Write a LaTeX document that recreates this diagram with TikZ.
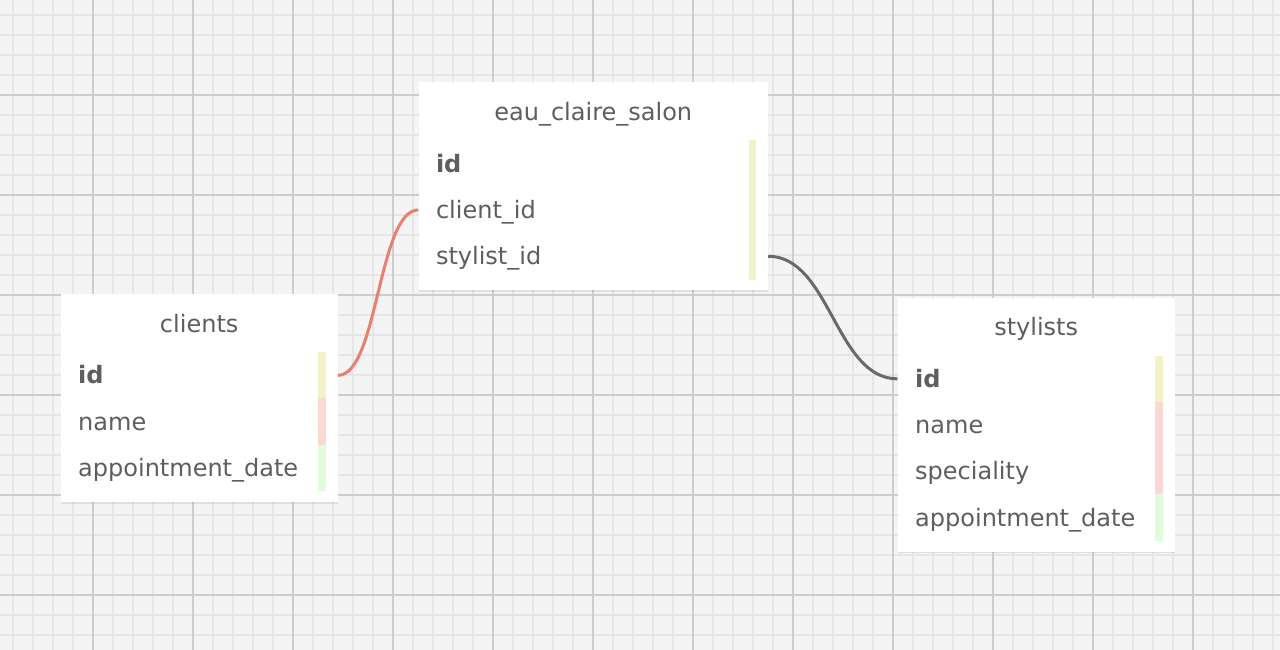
\documentclass[tikz,border=0pt]{standalone}
\usepackage{fontspec}
\setmainfont{DejaVu Sans}
\usepackage{tikz}
\usetikzlibrary{matrix,shadows}
\definecolor{gridbg}{HTML}{F4F4F4}
\definecolor{gridminor}{HTML}{E6E6E6}
\definecolor{gridmajor}{HTML}{CDCDCD}
\definecolor{fieldtext}{HTML}{5E5E5E}
\definecolor{keyyellow}{HTML}{F1F2C8}
\definecolor{keypink}{HTML}{F9D8D5}
\definecolor{keygreen}{HTML}{E1FBDC}
\definecolor{linkred}{HTML}{E9806F}
\definecolor{linkgray}{HTML}{6A6A6A}
\tikzset{table/.style={
    matrix of nodes,
    anchor=north west,
    fill=white,
    drop shadow={shadow xshift=0pt,shadow yshift=-1.5pt,opacity=0.18},
    inner xsep=0pt, inner ysep=11pt,
    row sep=0pt,
    nodes={
      text width=#1,
      text height=20pt, text depth=3pt,
      minimum height=46.3pt,
      inner xsep=17.5pt, inner ysep=0pt,
      align=left,
      anchor=center,
      text=fieldtext,
      font=\fontsize{24}{28}\selectfont
    },
  },
  table/.default=242pt,
  title/.style={align=center, inner ysep=7pt, text depth=13pt},
  pk/.style={font=\fontsize{24}{28}\selectfont\bfseries},
  link/.style={line width=3pt}
}

\begin{document}
\begin{tikzpicture}[x=1pt,y=-1pt]
    \useasboundingbox (0,0) rectangle (1280,650);
    % grid
    \fill[gridbg] (0,0) rectangle (1280,650);
    \foreach \x in {13,33,...,1273} \draw[gridminor,line width=2pt] (\x,0) -- (\x,650);
    \foreach \y in {15,35,...,635} \draw[gridminor,line width=2pt] (0,\y) -- (1280,\y);
    \foreach \x in {93,193,...,1193} \draw[gridmajor,line width=2pt] (\x,0) -- (\x,650);
    \foreach \y in {95,195,...,595} \draw[gridmajor,line width=2pt] (0,\y) -- (1280,\y);

    \matrix[table] (clients) at (60.5,294) {
        |[title]|clients \\
        |[pk]|id \\
        name \\
        appointment\_date \\
    };
    \matrix[table=314.5pt] (salon) at (418.3,82.3) {
        |[title]|eau\_claire\_salon \\
        |[pk]|id \\
        client\_id \\
        stylist\_id \\
    };
    \matrix[table] (stylists) at (897.5,297.5) {
        |[title]|stylists \\
        |[pk]|id \\
        name \\
        speciality \\
        appointment\_date \\
    };

    % key bars
    \fill[keyyellow] ([xshift=-12pt]clients-2-1.north east) rectangle ([xshift=-19.5pt]clients-2-1.south east);
    \fill[keypink] ([xshift=-12pt]clients-3-1.north east) rectangle ([xshift=-19.5pt]clients-3-1.south east);
    \fill[keygreen] ([xshift=-12pt]clients-4-1.north east) rectangle ([xshift=-19.5pt]clients-4-1.south east);
    \fill[keyyellow] ([xshift=-12pt]salon-2-1.north east) rectangle ([xshift=-19.5pt]salon-4-1.south east);
    \fill[keyyellow] ([xshift=-12pt]stylists-2-1.north east) rectangle ([xshift=-19.5pt]stylists-2-1.south east);
    \fill[keypink] ([xshift=-12pt]stylists-3-1.north east) rectangle ([xshift=-19.5pt]stylists-4-1.south east);
    \fill[keygreen] ([xshift=-12pt]stylists-5-1.north east) rectangle ([xshift=-19.5pt]stylists-5-1.south east);

    % relations
    \draw[link,linkred] (clients-2-1.east) .. controls +(40,0) and +(-40,0) .. (salon-3-1.west);
    \draw[link,linkgray] (salon-4-1.east) .. controls +(62,0) and +(-62,0) .. (stylists-2-1.west);
\end{tikzpicture}
\end{document}
